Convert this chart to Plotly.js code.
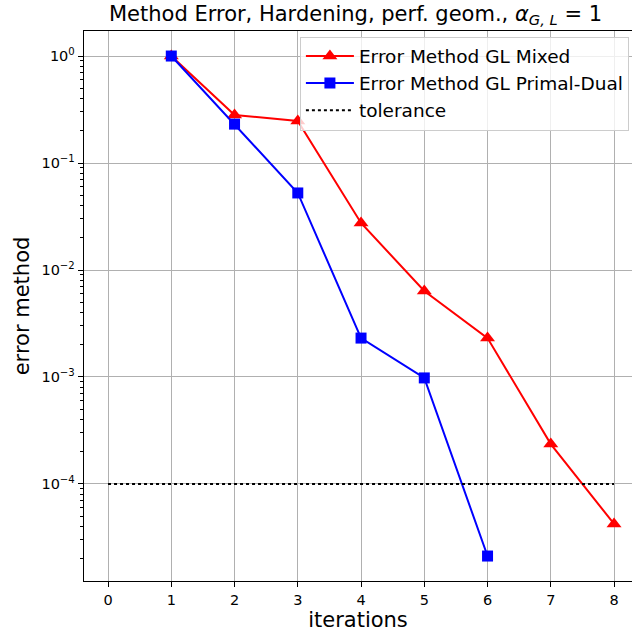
<!DOCTYPE html>
<html>
<head>
<meta charset="utf-8">
<script src="https://cdn.plot.ly/plotly-3.0.1.min.js"></script>
<style>html,body{margin:0;padding:0;background:#fff;}</style>
</head>
<body>
<div id="chart" style="width:632px;height:634px;"></div>
<script>
const iterMixed = [1, 2, 3, 4, 5, 6, 7, 8];
const errMixed = [1.0, 0.281, 0.247, 0.0275, 0.00637, 0.00231, 2.36e-4, 4.23e-5];
const iterPD = [1, 2, 3, 4, 5, 6];
const errPD = [1.0, 0.231, 0.0525, 0.00231, 9.8e-4, 2.12e-5];
const tolX = [0, 8];
const tolY = [1e-4, 1e-4];
const xTicks = [0, 1, 2, 3, 4, 5, 6, 7, 8];
const yTickVals = [1, 0.1, 0.01, 0.001, 0.0001];
const yTickText = ['10<sup>0</sup>', '10<sup>\u22121</sup>', '10<sup>\u22122</sup>', '10<sup>\u22123</sup>', '10<sup>\u22124</sup>'];

const minorVals = [];
for (let e = -5; e <= 0; e++) {
  for (let m = 2; m <= 9; m++) minorVals.push(m * Math.pow(10, e));
}

const font = 'DejaVu Sans, sans-serif';

const traces = [
  {
    x: iterMixed, y: errMixed, type: 'scatter', mode: 'lines+markers',
    name: 'Error Method GL Mixed',
    line: {color: '#ff0000', width: 2},
    marker: {symbol: 'triangle-up', size: 13, color: '#ff0000'}
  },
  {
    x: iterPD, y: errPD, type: 'scatter', mode: 'lines+markers',
    name: 'Error Method GL Primal-Dual',
    line: {color: '#0000ff', width: 2},
    marker: {symbol: 'square', size: 11, color: '#0000ff'}
  },
  {
    x: tolX, y: tolY, type: 'scatter', mode: 'lines',
    name: 'tolerance',
    line: {color: '#000000', width: 2, dash: 'dot'}
  }
];

const layout = {
  width: 632, height: 634,
  margin: {l: 84, r: 0, t: 31, b: 53},
  paper_bgcolor: '#ffffff', plot_bgcolor: '#ffffff',
  font: {family: font, color: '#000000'},
  title: {
    text: 'Method Error, Hardening, perf. geom., <i>\u03b1</i><sub><i>G, L</i></sub> = 1',
    font: {family: font, size: 21, color: '#000'},
    x: 0.5625, xanchor: 'center', y: 0.99, yanchor: 'top'
  },
  xaxis: {
    range: [-0.38, 8.284],
    tickvals: xTicks,
    ticks: 'outside', ticklen: 5, tickcolor: '#000',
    showline: true, mirror: true, linecolor: '#000', linewidth: 1.3,
    showgrid: true, gridcolor: '#b0b0b0', gridwidth: 1,
    zeroline: false,
    tickfont: {family: font, size: 14.5, color: '#000'},
    title: {text: 'iterations', font: {family: font, size: 21, color: '#000'}, standoff: 3}
  },
  yaxis: {
    type: 'log',
    range: [-4.907, 0.234],
    tickvals: yTickVals, ticktext: yTickText,
    ticks: 'outside', ticklen: 5, tickcolor: '#000',
    showline: true, mirror: false, linecolor: '#000', linewidth: 1.3,
    showgrid: true, gridcolor: '#b0b0b0', gridwidth: 1,
    zeroline: false,
    tickfont: {family: font, size: 14.5, color: '#000'},
    minor: {tickvals: minorVals, ticks: 'outside', ticklen: 2.5, tickcolor: '#000', showgrid: false},
    title: {text: 'error method', font: {family: font, size: 21, color: '#000'}, standoff: 6}
  },
  legend: {
    x: 0.394, y: 0.99, xanchor: 'left', yanchor: 'top',
    bgcolor: 'rgba(255,255,255,0.8)', bordercolor: '#cccccc', borderwidth: 1,
    font: {family: font, size: 18.5, color: '#000'},
    itemwidth: 48,
    tracegroupgap: 0
  },
  showlegend: true
};

Plotly.newPlot('chart', traces, layout, {displayModeBar: false, staticPlot: true});
</script>
</body>
</html>
